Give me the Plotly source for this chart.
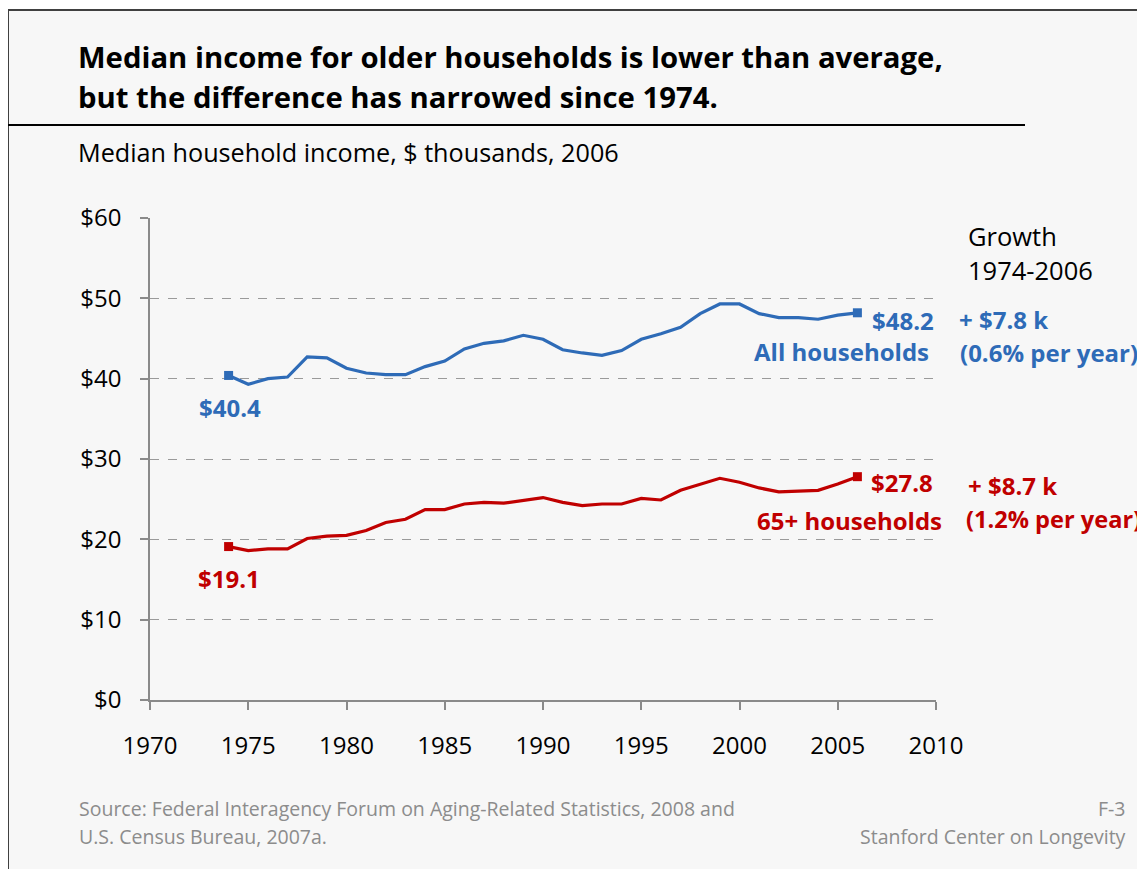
import plotly.graph_objects as go

years = list(range(1974, 2007))
all_households = [40.4, 39.3, 40.0, 40.2, 42.7, 42.6, 41.3, 40.7, 40.5, 40.5,
                  41.5, 42.2, 43.7, 44.4, 44.7, 45.4, 44.9, 43.6, 43.2, 42.9,
                  43.5, 44.9, 45.6, 46.4, 48.1, 49.3, 49.3, 48.1, 47.6, 47.6,
                  47.4, 47.9, 48.2]
older_households = [19.1, 18.6, 18.8, 18.8, 20.1, 20.4, 20.5, 21.1, 22.1, 22.5,
                    23.7, 23.7, 24.4, 24.6, 24.5, 24.8, 25.2, 24.6, 24.2, 24.4,
                    24.4, 25.1, 24.9, 26.1, 26.9, 27.6, 27.1, 26.4, 25.9, 26.0,
                    26.1, 26.9, 27.8]
x_ticks = [1970, 1975, 1980, 1985, 1990, 1995, 2000, 2005, 2010]
y_ticks = [0, 10, 20, 30, 40, 50, 60]
y_tick_labels = ["$" + str(v) for v in y_ticks]

BLUE = "#2e6bb7"
RED = "#c00000"
FONT = "Open Sans"

OFF = 8  # default page margin of the html body
W, H = 1145 - OFF, 869 - OFF
L, R, T, B = 150 - OFF, 936 - OFF, 218 - OFF, 700 - OFF


def px(x):
    return (x - OFF - L) / (R - L)


def py(y):
    return (B - (y - OFF)) / (B - T)


fig = go.Figure()
for vals, color in [(all_households, BLUE), (older_households, RED)]:
    fig.add_trace(go.Scatter(x=years, y=vals, mode="lines", line=dict(color=color, width=3.2),
                             hoverinfo="skip", showlegend=False))
    fig.add_trace(go.Scatter(x=[years[0], years[-1]], y=[vals[0], vals[-1]], mode="markers",
                             marker=dict(symbol="square", size=9, color=color),
                             hoverinfo="skip", showlegend=False))

fig.update_layout(
    width=W, height=H,
    margin=dict(l=L, r=W - R, t=T, b=H - B, pad=0),
    paper_bgcolor="white",
    plot_bgcolor="rgba(0,0,0,0)",
    font=dict(family=FONT, size=22, color="black"),
    showlegend=False,
)
fig.update_xaxes(range=[1970, 2010], tickvals=x_ticks, showgrid=False, zeroline=False,
                 showline=True, linecolor="#8a8a8a", linewidth=1.5,
                 ticks="outside", ticklen=8, tickcolor="#8a8a8a", tickwidth=1.5,
                 ticklabelstandoff=15, tickfont=dict(size=24, family=FONT))
fig.update_yaxes(range=[0, 60], tickvals=y_ticks, ticktext=y_tick_labels, zeroline=False,
                 showgrid=True, gridcolor="#9a9a9a", griddash="dash", gridwidth=1,
                 showline=True, linecolor="#8a8a8a", linewidth=1.5,
                 ticks="outside", ticklen=8, tickcolor="#8a8a8a", tickwidth=1.5,
                 ticklabelstandoff=14, tickfont=dict(size=24, family=FONT))

# page frame and title rule
fig.add_shape(type="rect", xref="paper", yref="paper", x0=px(8), x1=px(1170), y0=py(10), y1=py(890),
              line=dict(color="#404040", width=2), fillcolor="#f7f7f7", layer="below")
fig.add_shape(type="line", xref="paper", yref="paper", x0=px(7), x1=px(1025), y0=py(125), y1=py(125),
              line=dict(color="black", width=2))


def ann(text, x, y, xanchor="left", size=24, color="black", bold=False, family=FONT):
    if bold:
        text = "<b>" + text + "</b>"
    fig.add_annotation(text=text, xref="paper", yref="paper", x=px(x), y=py(y),
                       xanchor=xanchor, yanchor="middle", showarrow=False,
                       font=dict(size=size, color=color, family=family))


ann("Median income for older households is lower than average,", 76, 57, size=29.3, bold=True)
ann("but the difference has narrowed since 1974.", 76, 97, size=29.3, bold=True)
ann("Median household income, $ thousands, 2006", 76, 152, size=25.2)

ann("Growth", 966, 236, size=25.5)
ann("1974-2006", 966, 270, size=25.5)

ann("$%.1f" % all_households[0], 230, 407, xanchor="center", color=BLUE, bold=True)
ann("$%.1f" % all_households[-1], 870, 320, color=BLUE, bold=True)
ann("All households", 931, 351, xanchor="right", color=BLUE, bold=True)
ann("+ $%.1f k" % (all_households[-1] - all_households[0]), 957, 319, color=BLUE, bold=True)
ann("(0.6% per year)", 958, 352, color=BLUE, bold=True)

ann("$%.1f" % older_households[0], 229, 578, xanchor="center", color=RED, bold=True)
ann("$%.1f" % older_households[-1], 869, 482, color=RED, bold=True)
ann("65+ households", 944, 520, xanchor="right", color=RED, bold=True)
ann("+ $%.1f k" % (older_households[-1] - older_households[0]), 966, 485, color=RED, bold=True)
ann("(1.2% per year)", 964, 519, size=23.6, color=RED, bold=True)

GRAY = "#8c8c8c"
ann("Source: Federal Interagency Forum on Aging-Related Statistics, 2008 and", 77, 808, size=19.5, color=GRAY)
ann("U.S. Census Bureau, 2007a.", 77, 836, size=19.5, color=GRAY)
ann("F-3", 1128, 808, xanchor="right", size=19.5, color=GRAY)
ann("Stanford Center on Longevity", 1128, 836, xanchor="right", size=19.5, color=GRAY)

fig.write_html("out.html", config={"displayModeBar": False})
